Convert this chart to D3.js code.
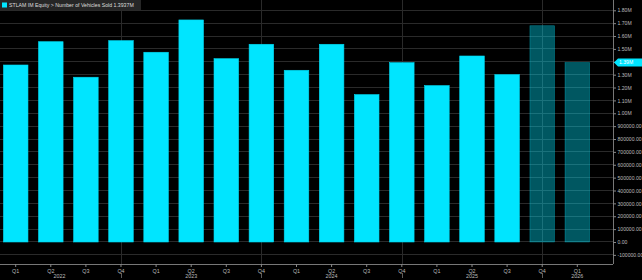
<!DOCTYPE html>
<html><head><meta charset="utf-8">
<script src="https://cdn.jsdelivr.net/npm/d3@7"></script>
<style>
html,body{margin:0;padding:0;background:#000;overflow:hidden}
text{font-family:"Liberation Sans",Arial,sans-serif}
</style></head>
<body><svg id="c" width="642" height="280"></svg>
<script>
const quarters = ["Q1","Q2","Q3","Q4","Q1","Q2","Q3","Q4","Q1","Q2","Q3","Q4","Q1","Q2","Q3","Q4","Q1"];
const values = [1375000,1556000,1280000,1564000,1474000,1725000,1424000,1536000,1334000,1536000,1145000,1393000,1215000,1445000,1300000,1680000,1393700];
const isForecast = [0,0,0,0,0,0,0,0,0,0,0,0,0,0,0,1,1];
const years = ["2022","2023","2024","2025","2026"];
const yearPos = [1.25,5,9,13,16];
const yearSep = [3,7,11,15];
const yTicks = d3.range(-100000, 1800001, 100000);
const lastValue = "1.39M";
const title = "STLAM IM Equity > Number of Vehicles Sold  1.3937M";

const svg = d3.select("#c");
const W = 642, H = 280, plotR = 613, plotB = 264;
svg.append("rect").attr("width",W).attr("height",H).attr("fill","#000");

const idx = d3.range(values.length);
const x = d3.scaleBand().domain(idx).range([0,593]).paddingInner(0.3).paddingOuter(0.097);
const y = d3.scaleLinear().domain([-171000,1880000]).range([plotB,0]);
const cx = i => x(i) + x.bandwidth()/2;
const cxf = p => x(0) + x.bandwidth()/2 + p*x.step();
const lastY = y(values[values.length-1]);

// horizontal gridlines
svg.append("g").selectAll("line").data(yTicks).join("line")
  .attr("x1",0).attr("x2",plotR).attr("y1",d=>y(d)).attr("y2",d=>y(d))
  .attr("stroke","#2a2a2a").attr("stroke-width",1).attr("shape-rendering","crispEdges");
// vertical gridlines
svg.append("g").selectAll("line").data(yearSep).join("line")
  .attr("x1",d=>Math.round(cx(d))+0.5).attr("x2",d=>Math.round(cx(d))+0.5).attr("y1",0).attr("y2",plotB)
  .attr("stroke","#2a2a2a").attr("stroke-width",1);

// bars
svg.append("g").selectAll("rect").data(idx).join("rect")
  .attr("x",i=>x(i)).attr("width",x.bandwidth())
  .attr("y",i=>y(values[i])).attr("height",i=>y(0)-y(values[i]))
  .attr("fill",i=>isForecast[i] ? "rgba(0,229,255,0.38)" : "#00e5ff")
  .attr("stroke",i=>isForecast[i] ? "rgba(0,229,255,0.45)" : "#00d8f0")
  .attr("stroke-width",0.6);

// axes lines
svg.append("line").attr("x1",0).attr("x2",plotR).attr("y1",plotB+0.5).attr("y2",plotB+0.5).attr("stroke","#777");
svg.append("line").attr("x1",plotR+0.5).attr("x2",plotR+0.5).attr("y1",0).attr("y2",plotB).attr("stroke","#777");

// y axis
const yAxis = d3.axisRight(y).tickValues(yTicks).tickSize(3).tickPadding(1.5)
  .tickFormat(v => v >= 1000000 ? (v/1e6).toFixed(2)+"M" : v.toFixed(2));
const ya = svg.append("g").attr("transform",`translate(${plotR},0)`).call(yAxis);
ya.select(".domain").remove();
ya.selectAll("line").attr("stroke","#888");
ya.selectAll("text").attr("fill","#bbb").style("font-size","5.1px");
// label hidden under the last-value tag, as in the reference
ya.selectAll(".tick").filter(d => Math.abs(y(d) - lastY) < 6).select("text").remove();

// x axis
const xAxis = d3.axisBottom(x).tickSize(3).tickPadding(2).tickFormat(i=>quarters[i]);
const xa = svg.append("g").attr("transform",`translate(0,${plotB})`).call(xAxis);
xa.select(".domain").remove();
xa.selectAll("line").attr("stroke","#888");
xa.selectAll("text").attr("fill","#bbb").style("font-size","5.4px");

// year labels
svg.append("g").selectAll("text").data(years).join("text")
  .attr("x",(d,i)=>cxf(yearPos[i])).attr("y",278).attr("text-anchor","middle")
  .attr("fill","#bbb").style("font-size","5.4px").text(d=>d);
svg.append("g").selectAll("line").data(yearSep).join("line")
  .attr("x1",d=>Math.round(cx(d))+0.5).attr("x2",d=>Math.round(cx(d))+0.5).attr("y1",273).attr("y2",278)
  .attr("stroke","#999").attr("stroke-width",0.6);

// last value tag
svg.append("path").attr("d",`M${plotR+1},${lastY} L${plotR+5},${lastY-4} L${W},${lastY-4} L${W},${lastY+4} L${plotR+5},${lastY+4} Z`)
  .attr("fill","#00e5ff");
svg.append("text").attr("x",plotR+6).attr("y",lastY+1.9).attr("fill","#fff").style("font-size","5.1px").text(lastValue);

// title
svg.append("rect").attr("x",0).attr("y",0).attr("width",141).attr("height",10).attr("fill","#262626");
svg.append("rect").attr("x",2).attr("y",2.5).attr("width",5).attr("height",5).attr("fill","#00e5ff");
svg.append("text").attr("x",9).attr("y",7.2).attr("fill","#ddd").style("font-size","5.2px").text(title);
</script></body></html>
